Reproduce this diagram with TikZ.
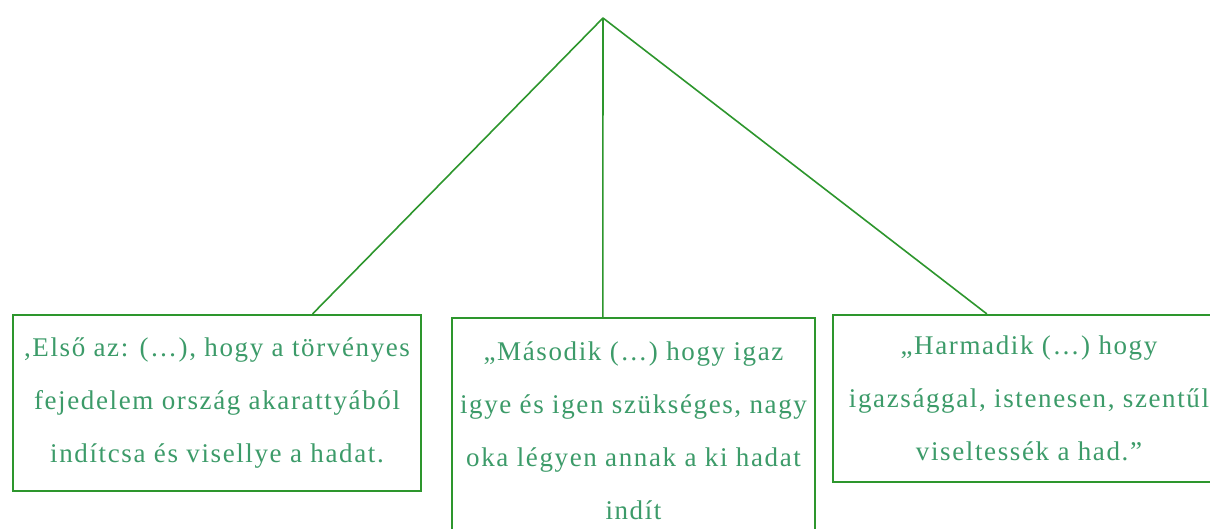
\documentclass[tikz,border=0pt]{standalone}
\usepackage{fontspec}
\setmainfont{Liberation Serif}[LetterSpace=6]
\usetikzlibrary{calc}
\definecolor{lineg}{RGB}{45,150,45}
\definecolor{textg}{RGB}{60,155,105}
\tikzset{
  quotebox/.style={draw=lineg, line width=2.2pt, inner sep=0pt, align=center,
    text=textg, font=\fontsize{27}{53}\selectfont},
  link/.style={draw=lineg, line width=1.6pt}
}
\begin{document}
\begin{tikzpicture}[x=1pt,y=-1pt]
\useasboundingbox (0,0) rectangle (1210,529);
\clip (0,0) rectangle (1210,529);
\fill[white] (0,0) rectangle (1210,529);
\coordinate (apex) at (603,18);
\node[quotebox, minimum width=408pt, minimum height=176pt] (b1) at (217,403)
  {,Első az: (…), hogy a törvényes\\fejedelem ország akarattyából\\indítcsa és visellye a hadat.};
\node[quotebox, minimum width=363pt, minimum height=226pt] (b2) at (633.5,431)
  {„Második (…) hogy igaz\\igye és igen szükséges, nagy\\oka légyen annak a ki hadat\\indít};
\node[quotebox, minimum width=392pt, minimum height=167pt] (b3) at (1029,398.5)
  {„Harmadik (…) hogy\\igazsággal, istenesen, szentűl\\viseltessék a had.”};
\draw[link] (apex) -- ($(b1.north west)!0.733!(b1.north east)$);
\draw[link] (apex) -- ($(b2.north west)!0.416!(b2.north east)$);
\draw[link] (apex) -- ($(b3.north west)!0.393!(b3.north east)$);
\end{tikzpicture}
\end{document}
